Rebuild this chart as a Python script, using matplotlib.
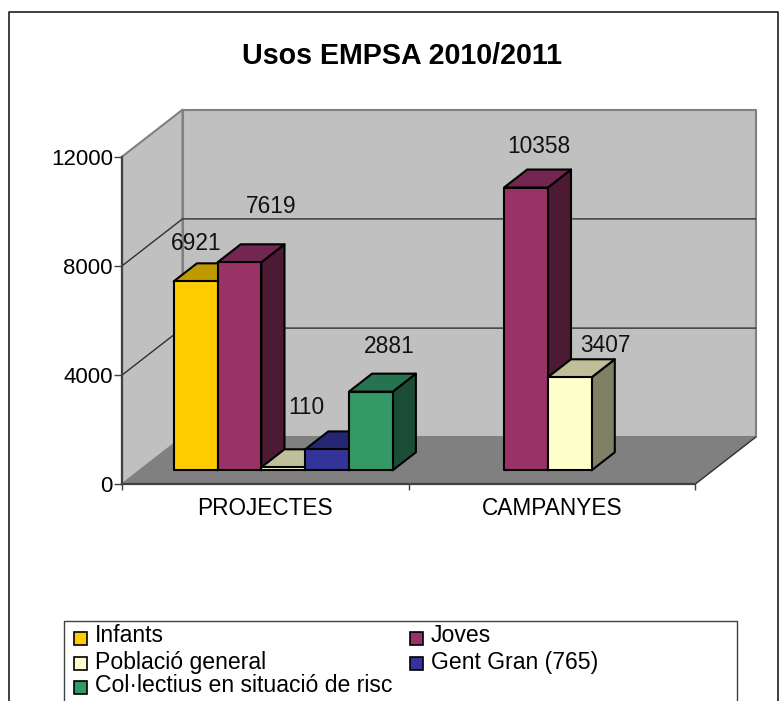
import matplotlib
matplotlib.use('Agg')
import matplotlib.pyplot as plt
from matplotlib.patches import Polygon, Rectangle

plt.rcParams['font.family'] = ['Liberation Sans', 'DejaVu Sans']

# Dades
categories = ['PROJECTES', 'CAMPANYES']
series_names = ['Infants', 'Joves', 'Població general', 'Gent Gran (765)', 'Col·lectius en situació de risc']
infants = [6921, None]
joves = [7619, 10358]
poblacio = [110, 3407]
gent_gran = [765, None]
collectius = [2881, None]
series = [infants, joves, poblacio, gent_gran, collectius]
y_ticks = [0, 4000, 8000, 12000]

# Colors: cara frontal, superior i lateral
front_colors = ['#FFCC00', '#993366', '#FFFFCC', '#333399', '#339966']
top_colors = ['#BF9900', '#732650', '#BFBF99', '#262673', '#267350']
side_colors = ['#806600', '#4D1A33', '#808066', '#1A1A4D', '#1A4D33']

# Les etiquetes no segueixen les barres: desplaçament manual en píxels
# (centre de la barra, sostre de la barra)
label_offsets = {
    (0, 0): (1, 38), (0, 1): (32, 56), (0, 2): (23, 60), (0, 4): (18, 45),
    (1, 1): (13, 41), (1, 2): (36, 32),
}

W, H = 783, 701
fig = plt.figure(figsize=(W / 100, H / 100), dpi=100, facecolor='white')

# Capa en píxels per al marc, el títol i la llegenda
page = fig.add_axes([0, 0, 1, 1], zorder=5)
page.set_xlim(0, W)
page.set_ylim(H, 0)
page.axis('off')
page.plot([9, 9, 778, 778], [H, 12, 12, H], color='#303030', lw=1.3, clip_on=False)
page.text(402, 56, 'Usos EMPSA 2010/2011', fontsize=20.6, fontweight='bold', ha='center', va='center')

# Eixos: la cara frontal del gràfic 3D
x0, x1 = 122, 695
y_base, y_top = 484.3, 156.7
ax = fig.add_axes([x0 / W, 1 - y_base / H, (x1 - x0) / W, (y_base - y_top) / H], facecolor='none')
ax.set_xlim(0, 2)
ax.set_ylim(0, 12000)

# Profunditat del gràfic en unitats de dades
depth_x = 60.5 / ((x1 - x0) / 2)
depth_y = 47 / ((y_base - y_top) / 12000)


def pt(x, y, d):
    return (x + d * depth_x, y + d * depth_y)


def face(points, color, edge='none', lw=0, z=1):
    ax.add_patch(Polygon(points, closed=True, facecolor=color, edgecolor=edge, lw=lw,
                         zorder=z, clip_on=False, joinstyle='round'))


# Parets i terra
face([pt(0, 0, 0), pt(0, 12000, 0), pt(0, 12000, 1), pt(0, 0, 1)], '#C0C0C0', '#808080', 1.5)
face([pt(0, 0, 1), pt(0, 12000, 1), pt(2, 12000, 1), pt(2, 0, 1)], '#C0C0C0', '#808080', 1.5)
face([pt(0, 0, 0), pt(0, 0, 1), pt(2, 0, 1), pt(2, 0, 0)], '#808080', 'none', 0, z=1.5)
ax.plot(*zip(pt(2, 0, 0), pt(2, 0, 1)), color='#303030', lw=1, zorder=1.6, clip_on=False)

# Línies de graella
for v in y_ticks[1:3]:
    ax.plot(*zip(pt(0, v, 0), pt(0, v, 1), pt(2, v, 1)), color='#303030', lw=1, zorder=1.2, clip_on=False)

# Barres
bar_w = 43.8 / ((x1 - x0) / 2)
margin = 33.7 / ((x1 - x0) / 2)
d0, d1 = 14 / 47, 32 / 47
z = 2
for c in range(len(categories)):
    for s, values in enumerate(series):
        v = values[c]
        if v is None:
            continue
        left = c + margin + s * bar_w
        right = left + bar_w
        face([pt(right, 0, d0), pt(right, v, d0), pt(right, v, d1), pt(right, 0, d1)],
             side_colors[s], 'black', 1.5, z)
        face([pt(left, v, d0), pt(left, v, d1), pt(right, v, d1), pt(right, v, d0)],
             top_colors[s], 'black', 1.5, z)
        face([pt(left, 0, d0), pt(left, v, d0), pt(right, v, d0), pt(right, 0, d0)],
             front_colors[s], 'black', 1.5, z)
        z += 0.1
        if (c, s) in label_offsets:
            dx, dy = label_offsets[(c, s)]
            cx, cy = pt((left + right) / 2, v, d0)
            ax.annotate(str(v), (cx, cy), xytext=(dx * 0.72, dy * 0.72), textcoords='offset points',
                        ha='center', va='center', fontsize=16.4, color='#111111', zorder=20,
                        annotation_clip=False)

# Eix Y i eix X
for side in ['top', 'right']:
    ax.spines[side].set_visible(False)
for side in ['left', 'bottom']:
    ax.spines[side].set_color('#404040')
    ax.spines[side].set_linewidth(1.6)
    ax.spines[side].set_zorder(1.8)
ax.set_yticks(y_ticks)
ax.set_xticks([0, 1, 2])
ax.set_xticklabels([])
ax.set_xticks([0.5, 1.5], minor=True)
ax.set_xticklabels(categories, minor=True)
ax.tick_params(axis='y', length=5.5, width=1, color='#404040', labelsize=16, pad=1)
ax.tick_params(axis='x', which='major', length=4.5, width=1, color='#404040')
ax.tick_params(axis='x', which='minor', length=0, labelsize=16.3, pad=9)

# Llegenda (tallada per baix, com a l'original)
page.plot([64, 64, 737, 737], [H, 621, 621, H], color='#404040', lw=1, clip_on=False)
legend_pos = [(74, 636), (410, 636), (74, 662), (410, 662), (74, 685)]
marker_y = [632, 632, 657, 657, 681]
for name, color, (lx, ly), my in zip(series_names, front_colors, legend_pos, marker_y):
    page.add_patch(Rectangle((lx, my), 13, 13, facecolor=color, edgecolor='black', lw=1.2))
    page.text(lx + 21, ly, name, fontsize=16.6, ha='left', va='center')

fig.savefig('out.png', dpi=100)
